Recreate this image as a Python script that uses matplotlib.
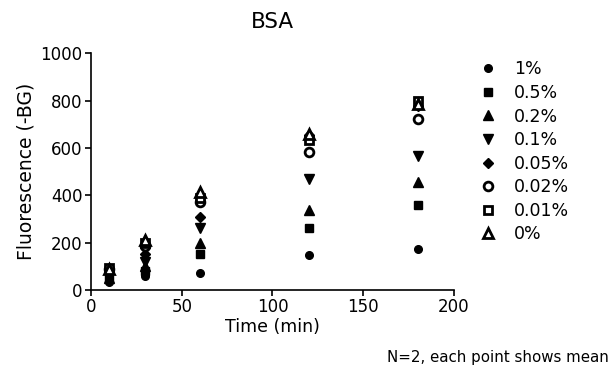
import numpy as np
import matplotlib.pyplot as plt

times = [10, 30, 60, 120, 180]
labels = ['1%', '0.5%', '0.2%', '0.1%', '0.05%', '0.02%', '0.01%', '0%']
conc1 = [35, 60, 70, 148, 172]
conc05 = [45, 80, 150, 262, 360]
conc02 = [50, 100, 200, 338, 455]
conc01 = [60, 120, 262, 468, 565]
conc005 = [75, 150, 310, 655, 775]
conc002 = [90, 185, 370, 582, 722]
conc001 = [95, 200, 390, 633, 800]
conc0 = [88, 210, 415, 660, 785]

series = [conc1, conc05, conc02, conc01, conc005, conc002, conc001, conc0]
markers = ['o', 's', '^', 'v', 'D', 'o', 's', '^']
sizes = [5.5, 5.5, 6.5, 6.5, 5, 6.3, 6.3, 6.5]
filled = [True, True, True, True, True, False, False, False]

fig = plt.figure(figsize=(6.13, 3.69), dpi=100)
ax = fig.add_axes([0.1485, 0.214, 0.592, 0.642])

for vals, m, s, f, lab in zip(series, markers, sizes, filled, labels):
    ax.plot(times, vals, linestyle='none', marker=m, ms=s, color='black',
            mfc='black' if f else 'white', mew=2 if not f else 1, label=lab)

ax.set_xlim(0, 200)
ax.set_ylim(0, 1000)
ax.set_xticks(np.arange(0, 201, 50))
ax.set_yticks(np.arange(0, 1001, 200))
ax.tick_params(labelsize=12, width=1.2, length=4, pad=2)
for side in ['top', 'right']:
    ax.spines[side].set_visible(False)
for side in ['left', 'bottom']:
    ax.spines[side].set_linewidth(1.2)

ax.set_title('BSA', fontsize=15.5, pad=18)
ax.set_xlabel('Time (min)', fontsize=12.5, labelpad=1)
ax.set_ylabel('Fluorescence (-BG)', fontsize=13.5, labelpad=4)

ax.legend(loc='upper left', bbox_to_anchor=(0.77, 0.855), bbox_transform=fig.transFigure,
          frameon=False, fontsize=12.5, labelspacing=0.32, handletextpad=1.0,
          borderaxespad=0, handlelength=1.0)

fig.text(0.993, 0.018, 'N=2, each point shows mean', ha='right', fontsize=10.8)

fig.savefig('out.png')
